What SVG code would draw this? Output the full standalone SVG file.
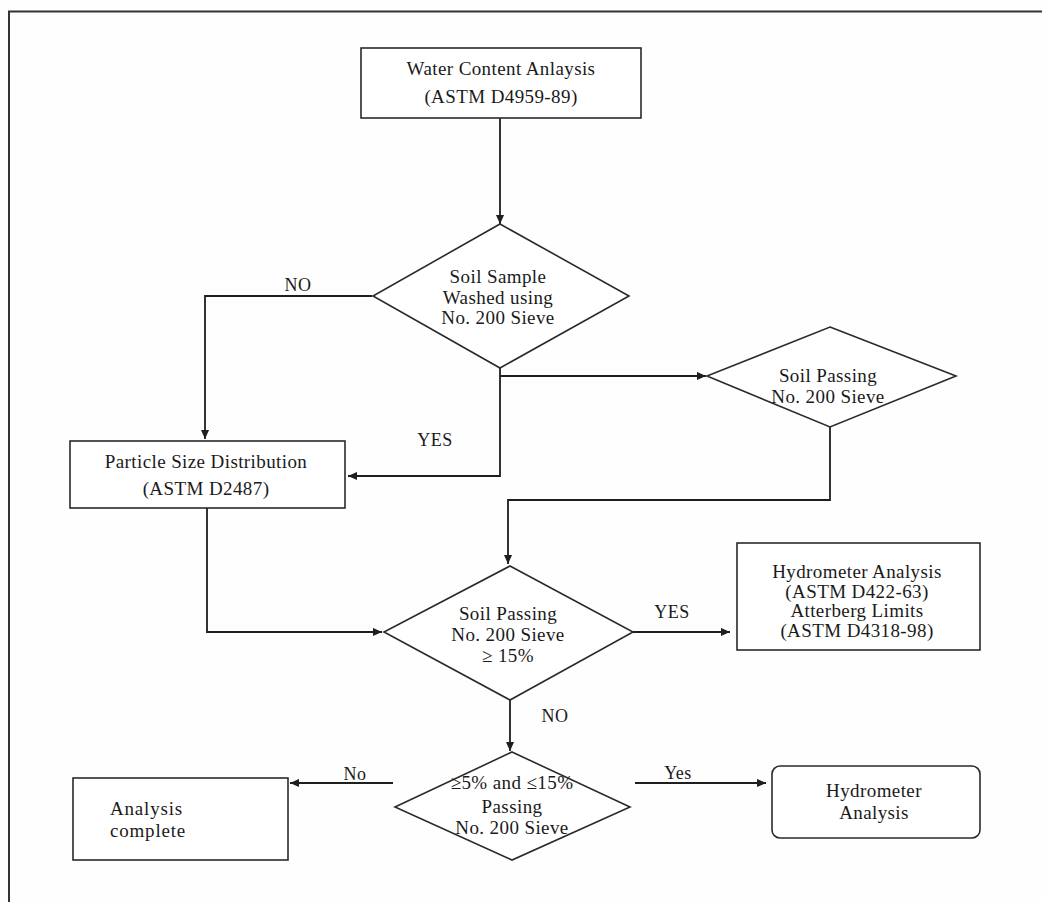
<svg xmlns="http://www.w3.org/2000/svg" width="1042" height="902" viewBox="0 0 1042 902">
<style>
.box{fill:#fff;stroke:#2a2a2a;stroke-width:1.6}
.line{fill:none;stroke:#1e1e1e;stroke-width:1.8}
.t{font-family:"Liberation Serif","Times New Roman",serif;font-size:19px;fill:#1a1a1a;text-anchor:middle;letter-spacing:0.4px}
.lbl{font-family:"Liberation Serif","Times New Roman",serif;font-size:18px;fill:#1a1a1a;text-anchor:middle;letter-spacing:0.5px}
</style>
<defs>
<marker id="ah" viewBox="0 0 10 10" refX="10" refY="5" markerWidth="10" markerHeight="9" orient="auto" markerUnits="userSpaceOnUse">
<path d="M0,0.5 L10,5 L0,9.5 z" fill="#1e1e1e"/>
</marker>
</defs>
<rect x="0" y="0" width="1042" height="902" fill="#fefefe"/>
<path d="M9,902 V11.5 H1042" fill="none" stroke="#333" stroke-width="2"/>

<g id="connectors">
<path class="line" d="M500,118 V224" marker-end="url(#ah)"/>
<path class="line" d="M372,296 H205 V439" marker-end="url(#ah)"/>
<path class="line" d="M500,368 V476 H348" marker-end="url(#ah)"/>
<path class="line" d="M500,376 H706" marker-end="url(#ah)"/>
<path class="line" d="M830,427 V500 H508 V564" marker-end="url(#ah)"/>
<path class="line" d="M207,508 V632 H382" marker-end="url(#ah)"/>
<path class="line" d="M633,632 H730" marker-end="url(#ah)"/>
<path class="line" d="M510,700 V751" marker-end="url(#ah)"/>
<path class="line" d="M393,783 H290" marker-end="url(#ah)"/>
<path class="line" d="M635,783 H766" marker-end="url(#ah)"/>
<text class="lbl" x="298" y="291">NO</text>
<text class="lbl" x="435" y="446">YES</text>
<text class="lbl" x="672" y="618">YES</text>
<text class="lbl" x="555" y="722">NO</text>
<text class="lbl" x="355" y="780">No</text>
<text class="lbl" x="678" y="779">Yes</text>
</g>

<g id="water-content">
<rect class="box" x="361" y="48" width="280" height="70"/>
<text class="t" x="501" y="75" font-size="20">Water Content Anlaysis</text>
<text class="t" x="501" y="103" font-size="20">(ASTM D4959-89)</text>
</g>

<g id="soil-sample-washed">
<polygon class="box" points="500,224 629,296 500,368 373,296"/>
<text class="t" x="498" y="283">Soil Sample</text>
<text class="t" x="498" y="304">Washed using</text>
<text class="t" x="498" y="324">No. 200 Sieve</text>
</g>

<g id="soil-passing-1">
<polygon class="box" points="830,327 956,376 830,427 707,376"/>
<text class="t" x="828" y="382">Soil Passing</text>
<text class="t" x="828" y="403">No. 200 Sieve</text>
</g>

<g id="particle-size">
<rect class="box" x="70" y="441" width="275" height="67"/>
<text class="t" x="206" y="468" font-size="20">Particle Size Distribution</text>
<text class="t" x="206" y="495" font-size="20">(ASTM D2487)</text>
</g>

<g id="soil-passing-2">
<polygon class="box" points="510,566 633,632 510,700 384,632"/>
<text class="t" x="508" y="620">Soil Passing</text>
<text class="t" x="508" y="641">No. 200 Sieve</text>
<text class="t" x="508" y="662">≥ 15%</text>
</g>

<g id="hydrometer-atterberg">
<rect class="box" x="737" y="543" width="243" height="107"/>
<text class="t" x="857" y="578" font-size="20">Hydrometer Analysis</text>
<text class="t" x="857" y="598" font-size="20">(ASTM D422-63)</text>
<text class="t" x="857" y="617" font-size="20">Atterberg Limits</text>
<text class="t" x="857" y="637" font-size="20">(ASTM D4318-98)</text>
</g>

<g id="percent-passing">
<polygon class="box" points="512,752 630,807 512,860 395,807"/>
<text class="t" x="512" y="789" font-size="17">≥5%  and ≤15%</text>
<text class="t" x="512" y="813">Passing</text>
<text class="t" x="512" y="834">No. 200 Sieve</text>
</g>

<g id="analysis-complete">
<rect class="box" x="73" y="778" width="215" height="82"/>
<text class="t" x="110" y="815" font-size="20" style="text-anchor:start;letter-spacing:0.8px">Analysis</text>
<text class="t" x="110" y="837" font-size="20" style="text-anchor:start;letter-spacing:0.8px">complete</text>
</g>

<g id="hydrometer-analysis">
<rect class="box" x="772" y="766" width="208" height="72" rx="8" ry="8"/>
<text class="t" x="874" y="797" font-size="20">Hydrometer</text>
<text class="t" x="874" y="819" font-size="20">Analysis</text>
</g>
</svg>
